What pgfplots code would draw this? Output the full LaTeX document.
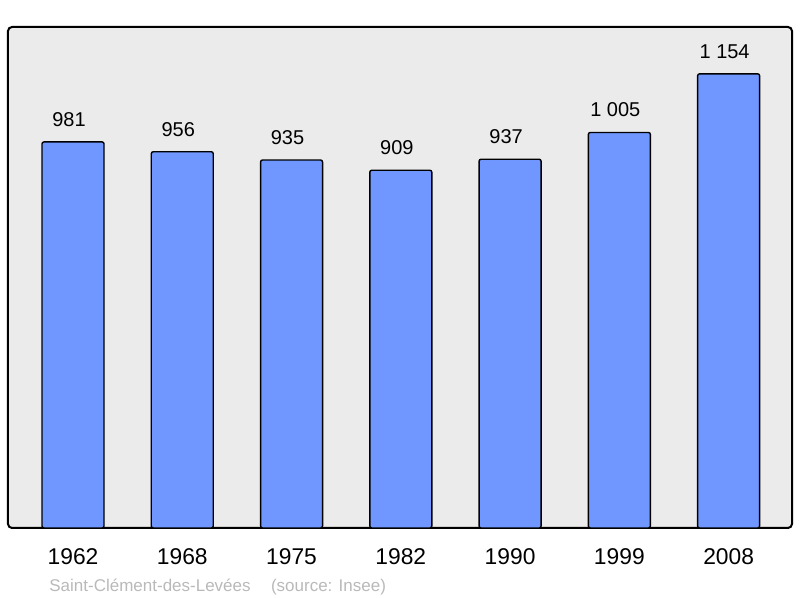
\documentclass[border=0pt]{standalone}
\usepackage{pgfplots}
\pgfplotsset{compat=1.18}
\usepackage{fontspec}
\setmainfont{Liberation Sans}
\definecolor{barblue}{RGB}{112,150,255}
\definecolor{panel}{RGB}{235,235,235}
\definecolor{srcgray}{RGB}{185,185,185}
\begin{document}
\begin{tikzpicture}
\useasboundingbox (-4pt,-35pt) rectangle (396pt,264pt);
\begin{axis}[
  at={(0,0)}, anchor=south west,
  scale only axis, width=392pt, height=250.5pt,
  xmin=-0.595, xmax=6.58, ymin=0, ymax=1273,
  axis line style={draw=none},
  axis background/.style={fill=panel, draw=black, line width=1pt, rounded corners=2pt},
  ytick=\empty,
  xtick=data,
  xticklabels={1962,1968,1975,1982,1990,1999,2008},
  major tick length=0pt,
  xticklabel style={font=\fontsize{11.4}{13}\selectfont, yshift=-7pt},
  /pgf/number format/assume math mode=true,
  /pgf/number format/1000 sep={\ },
  ybar, bar width=31pt,
  nodes near coords,
  every node near coord/.append style={font=\fontsize{10}{12}\selectfont, yshift=4pt, xshift=-2pt},
  clip=false,
]
\addplot[fill=barblue, draw=black, line width=0.7pt, rounded corners=1pt] coordinates {
  (0,981) (1,956) (2,935) (3,909) (4,937) (5,1005) (6,1154)
};
\end{axis}
\node[anchor=west, text=srcgray, font=\fontsize{8.5}{10}\selectfont, inner sep=0pt] at (20.5pt,-29.5pt) {Saint-Clément-des-Levées\hspace{1.2em}(source: Insee)};
\end{tikzpicture}
\end{document}
